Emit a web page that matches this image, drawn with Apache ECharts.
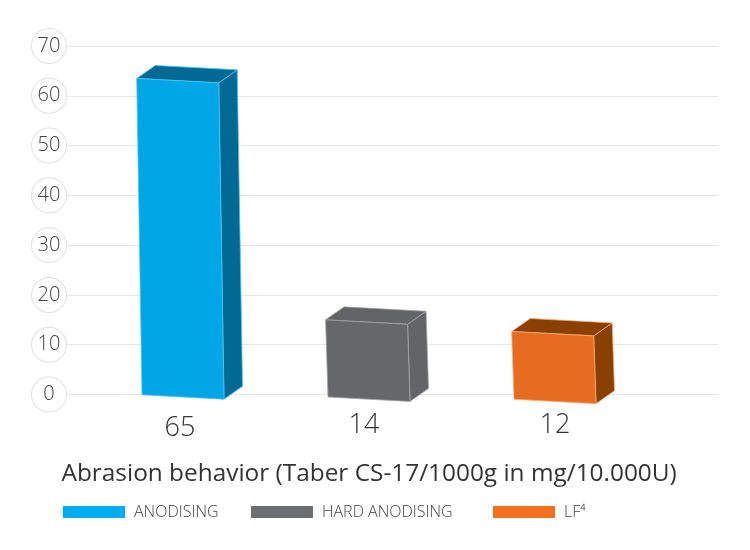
<!DOCTYPE html>
<html><head><meta charset="utf-8">
<style>html,body{margin:0;padding:0;background:#fff}#c{width:750px;height:550px}</style>
<script src="https://cdn.jsdelivr.net/npm/echarts@6/dist/echarts.min.js"></script>
</head><body><div id="c"></div>
<script>
const seriesNames = ['ANODISING', 'HARD ANODISING', 'LF⁴'];
const barLabels = ['65', '14', '12'];
const barValues = [65, 14, 12];
const yTicks = [0, 70, 10];
const frontColors = ['#00a6e6', '#666769', '#e86c1f'];
const darkColors = ['#006a94', '#636466', '#8a4000'];
const edgeColors = ['#4cc3ee', '#a3a3a5', '#f3a878'];
const legendColors = ['#00aeef', '#6d6e71', '#f37021'];
const legendLeft = [58, 246, 488];
const font = '"Open Sans", sans-serif';

function renderBar(params, api) {
  const i = params.seriesIndex;
  const top = api.coord([api.value(0), api.value(1)]);
  const base = api.coord([api.value(0), 0]);
  const cx = base[0], half = 41, tilt = 2.2;
  const drift = 0.012 * (cx - 183);
  const yb = base[1] + 11.5 + drift, yt = top[1] + drift;
  const lean = 0.012 * (yb - yt) + 1.5;
  const dx = 18.5, dy = -13;
  const bl = [cx - half, yb - tilt], br = [cx + half, yb + tilt];
  const tl = [cx - half - lean, yt - tilt], tr = [cx + half - lean, yt + tilt];
  const off = p => [p[0] + dx, p[1] + dy];
  const poly = (points, fill, stroke) => ({
    type: 'polygon', shape: { points },
    style: { fill, stroke, lineWidth: 0.8 }
  });
  return { type: 'group', children: [
    poly([tr, br, off(br), off(tr)], darkColors[i], edgeColors[i]),
    poly([tl, tr, off(tr), off(tl)], darkColors[i], edgeColors[i]),
    poly([tl, tr, br, bl], frontColors[i], edgeColors[i])
  ]};
}

const chart = echarts.init(document.getElementById('c'), null, { renderer: 'canvas' });
chart.setOption({
  animation: false,
  backgroundColor: '#fff',
  title: {
    text: 'Abrasion behavior (Taber CS-17/1000g in mg/10.000U)',
    left: 56.5, top: 457.5,
    textStyle: { fontFamily: font, fontWeight: 400, fontSize: 24.4, color: '#333' }
  },
  legend: seriesNames.map((n, i) => ({
    data: [{ name: n, itemStyle: { color: legendColors[i] } }],
    left: legendLeft[i], top: 499,
    itemWidth: 62, itemHeight: 12, itemGap: 0,
    icon: 'rect', selectedMode: false,
    textStyle: { fontFamily: font, fontWeight: 300, fontSize: 16, color: '#444', padding: [0, 0, 0, 4] }
  })),
  grid: [
    { left: 66, right: 32, top: 46, bottom: 155.5 },
    { left: 90, width: 558, top: 46, bottom: 155.5 }
  ],
  xAxis: [
    { type: 'value', gridIndex: 0, show: false },
    { type: 'category', gridIndex: 1, data: barLabels,
      axisLine: { show: false }, axisTick: { show: false },
      axisLabel: {
        margin: 17,
        formatter: v => `{b${barLabels.indexOf(v)}|${v}}`,
        rich: {
          b0: { fontFamily: font, fontWeight: 300, fontSize: 27, color: '#333', padding: [3, 6, 0, 0] },
          b1: { fontFamily: font, fontWeight: 300, fontSize: 27, color: '#333', padding: [0, 10, 0, 0] },
          b2: { fontFamily: font, fontWeight: 300, fontSize: 27, color: '#333', padding: [0, 0, 0, 0] }
        }
      } }
  ],
  yAxis: [
    { type: 'value', gridIndex: 0, min: yTicks[0], max: yTicks[1], interval: yTicks[2],
      axisLine: { show: false }, axisTick: { show: false },
      splitLine: { lineStyle: { color: '#e6e6e6', width: 1 } },
      axisLabel: {
        margin: 17, fontFamily: font, fontWeight: 300, fontSize: 20, color: '#444',
        width: 34, height: 32, lineHeight: 32, padding: [2, 0, 0, 0], align: 'center', verticalAlign: 'middle',
        backgroundColor: '#fff', borderColor: '#e2e2e2', borderWidth: 1, borderRadius: 17,
        formatter: v => v
      } },
    { type: 'value', gridIndex: 1, show: false, min: -1.919, max: 72.39, splitLine: { show: false } }
  ],
  series: seriesNames.map((n, i) => ({
    name: n, type: 'custom', xAxisIndex: 1, yAxisIndex: 1,
    itemStyle: { color: legendColors[i] },
    renderItem: renderBar,
    encode: { x: 0, y: 1 },
    data: [[i, barValues[i]]]
  }))
});
</script></body></html>
